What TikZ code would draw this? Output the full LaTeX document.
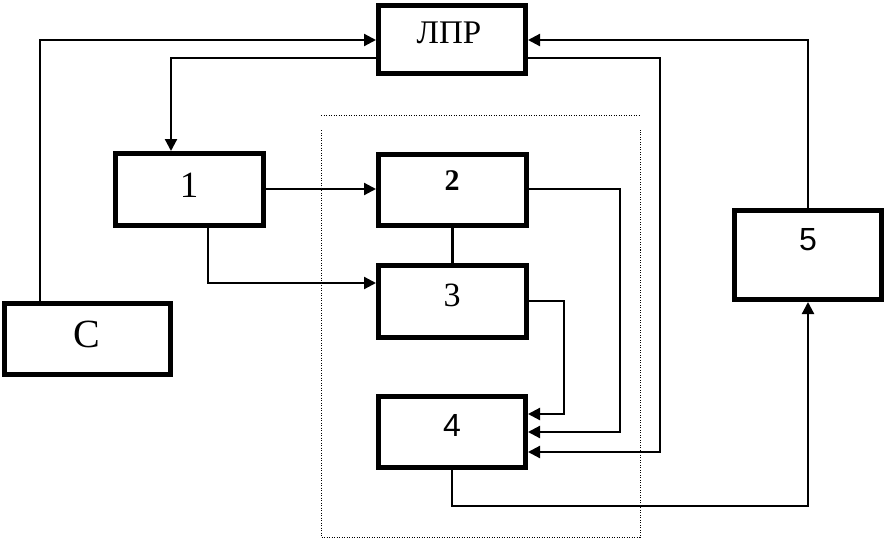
\documentclass[tikz,border=0pt]{standalone}
\usepackage{fontspec}
\setmainfont{Liberation Serif}
\newfontfamily\sansf{Liberation Sans}
\usetikzlibrary{arrows.meta}
\tikzset{
  blk/.style={draw, line width=5pt, rectangle, inner sep=0pt},
  lbl/.style={anchor=base, inner sep=0pt},
  conn/.style={line width=2.2pt},
  arr/.style={conn, -{Triangle[length=12pt,width=12pt]}},
  dotline/.style={line width=1pt, dash pattern=on 1pt off 1.5pt}
}
\begin{document}
\begin{tikzpicture}[x=1pt,y=-1pt]
\useasboundingbox (0,0) rectangle (886,538);
% dotted frame
\draw[dotline] (321,115) -- (640,115);
\draw[dotline] (321,130) -- (321,537) -- (640,537) -- (640,130);
% boxes
\node[blk, minimum width=147pt, minimum height=68pt] (lpr) at (452,39.5) {};
\node[blk, minimum width=148pt, minimum height=72pt] (b1) at (189.5,189.5) {};
\node[blk, minimum width=148pt, minimum height=71pt] (b2) at (452.5,190) {};
\node[blk, minimum width=148pt, minimum height=72pt] (b3) at (452.5,301.5) {};
\node[blk, minimum width=147pt, minimum height=71pt] (b4) at (452,432) {};
\node[blk, minimum width=166pt, minimum height=71pt] (c) at (87.5,339) {};
\node[blk, minimum width=147pt, minimum height=89pt] (b5) at (808,255) {};
% labels
\node[lbl, font=\fontsize{33}{36}\selectfont] (lprT) at (449,43) {ЛПР};
\node[lbl, font=\fontsize{37}{40}\selectfont] (b1T) at (189,197) {1};
\node[lbl, font=\bfseries\fontsize{30}{34}\selectfont] (b2T) at (452,190) {2};
\node[lbl, font=\fontsize{34}{38}\selectfont] (b3T) at (452,306) {3};
\node[lbl, font=\sansf\fontsize{32}{36}\selectfont] (b4T) at (452,436) {4};
\node[lbl, font=\sansf\fontsize{32}{36}\selectfont] (b5T) at (808,250) {5};
\node[lbl, font=\fontsize{40}{44}\selectfont] (cT) at (87,347) {С};
% connectors
\draw[arr] (c.north -| 40,0) |- (lpr.west |- 0,40);
\draw[arr] (lpr.west |- 0,58) -| (b1.north -| 171,0);
\draw[arr] (lpr.east |- 0,58) -| (660,452) -- (b4.east |- 0,452);
\draw[arr] (b5.north) |- (lpr.east |- 0,40);
\draw[arr] (b1.east |- 0,189) -- (b2.west |- 0,189);
\draw[arr] (b1.south -| 208,0) |- (b3.west |- 0,283);
\draw[conn] (b2.south) -- (b3.north);
\draw[arr] (b2.east |- 0,189) -| (620,432) -- (b4.east |- 0,432);
\draw[arr] (b3.east |- 0,301) -| (564,414) -- (b4.east |- 0,414);
\draw[arr] (b4.south) |- (808,506) -- (b5.south);
\end{tikzpicture}
\end{document}
